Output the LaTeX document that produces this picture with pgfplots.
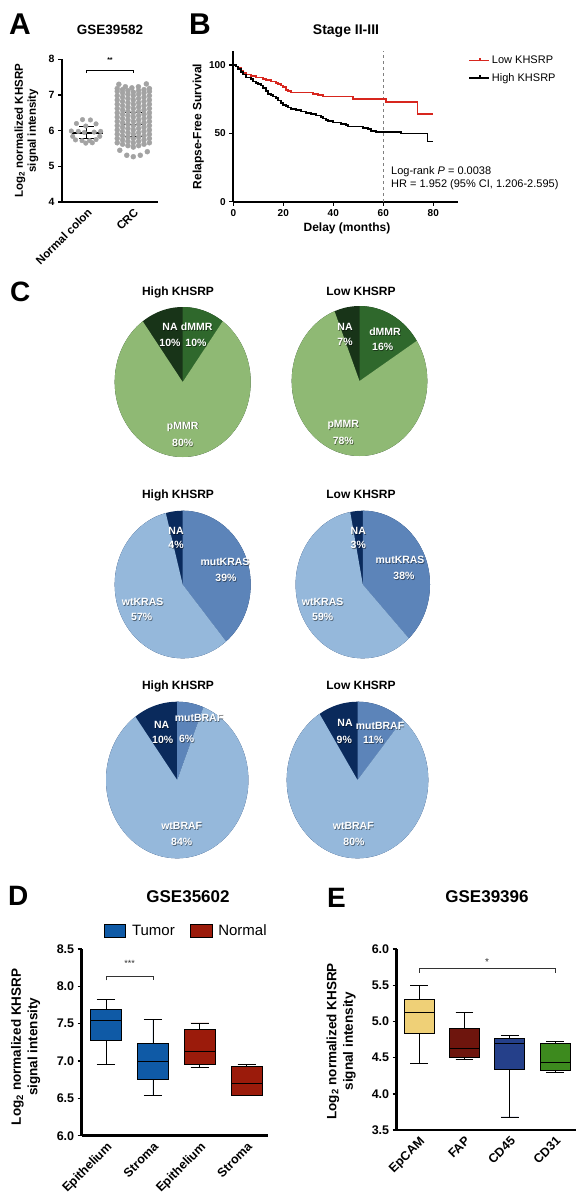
\documentclass[border=0pt]{standalone}
\usepackage{fontspec}
\setmainfont{Liberation Sans}
\usepackage{pgfplots}
\pgfplotsset{compat=1.18}
\usepgfplotslibrary{statistics}

\definecolor{dotgray}{HTML}{A3A3A3}
\definecolor{lowred}{HTML}{D7261E}
\definecolor{mmrNA}{HTML}{183418}
\definecolor{mmrD}{HTML}{2F682C}
\definecolor{mmrP}{HTML}{8FB974}
\definecolor{bNA}{HTML}{0A2A5C}
\definecolor{bMut}{HTML}{5C84B9}
\definecolor{bWt}{HTML}{95B8DB}
\definecolor{tumor}{HTML}{0F5AA6}
\definecolor{normal}{HTML}{9B1B0B}
\definecolor{epcam}{HTML}{EFD077}
\definecolor{fap}{HTML}{6E150D}
\definecolor{cdff}{HTML}{25408A}
\definecolor{cdto}{HTML}{3D8A1E}

\newcommand{\fs}[1]{\fontsize{#1}{#1}\selectfont}

\pgfplotsset{
  panel/.style={scale only axis, axis lines=left, axis line style={-, line width=2pt},
    tick style={black, line width=1.4pt}, tick align=outside, major tick length=4pt,
    /pgf/number format/assume math mode=true, clip=false,
    ticklabel style={font=\bfseries\fs{10}}},
  bx/.style={boxplot prepared={#1, draw direction=y, box extend=0.66, whisker extend=0.39},
    draw=black, line width=0.8pt, solid, forget plot},
}

% pie: cx cy rx ry p1 p2 colour1 colour2 colour3(rest)
\newcommand{\pie}[9]{%
  \pgfmathsetlengthmacro\pw{2*#3pt}\pgfmathsetlengthmacro\ph{2*#4pt}%
  \begin{axis}[at={(#1pt,-#2pt)}, anchor=center, scale only axis, width=\pw, height=\ph,
    hide axis, xmin=-1, xmax=1, ymin=-1, ymax=1, clip=false]
    \fill[#9] (axis cs:0,0) ellipse[x radius=#3pt, y radius=#4pt];
    \fill[#7] (axis cs:0,0) -- (axis cs:0,1) arc[start angle=90, end angle={90-3.6*#5}, x radius=#3pt, y radius=#4pt] -- cycle;
    \fill[#8] (axis cs:0,0) -- ++({90-3.6*#5}:#3pt and #4pt) arc[start angle={90-3.6*#5}, end angle={90-3.6*(#5+#6)}, x radius=#3pt, y radius=#4pt] -- cycle;
  \end{axis}}

\newcommand{\plab}[3]{%
  \node[font=\bfseries\fs{10.5}, text=black, opacity=0.45] at ({#1pt+0.7pt},{-#2pt-0.7pt}) {#3};
  \node[font=\bfseries\fs{10.5}, text=white] at (#1pt,-#2pt) {#3};}

\begin{document}
\begin{tikzpicture}
\useasboundingbox (0,0) rectangle (576pt,-1199pt);

% ---------- panel letters and titles
\node[anchor=base west, font=\bfseries\fs{30}, inner sep=0pt] at (9pt,-35pt) {A};
\node[anchor=base west, font=\bfseries\fs{30}, inner sep=0pt] at (189pt,-35pt) {B};
\node[anchor=base west, font=\bfseries\fs{28}, inner sep=0pt] at (10pt,-301pt) {C};
\node[anchor=base west, font=\bfseries\fs{28}, inner sep=0pt] at (8pt,-905pt) {D};
\node[anchor=base west, font=\bfseries\fs{28}, inner sep=0pt] at (327pt,-907pt) {E};

\node[anchor=base, font=\bfseries\fs{13.5}, inner sep=0pt] at (110pt,-35pt) {GSE39582};
\node[anchor=base, font=\bfseries\fs{14}, inner sep=0pt] at (346pt,-35pt) {Stage II-III};
\node[anchor=base, font=\bfseries\fs{17}, inner sep=0pt] at (188pt,-902.7pt) {GSE35602};
\node[anchor=base, font=\bfseries\fs{17}, inner sep=0pt] at (487pt,-902.7pt) {GSE39396};

\foreach \yy in {295,498.3,689.3}{
  \node[anchor=base, font=\bfseries\fs{12}, inner sep=0pt] at (178pt,-\yy pt) {High KHSRP};
  \node[anchor=base, font=\bfseries\fs{12}, inner sep=0pt] at (361pt,-\yy pt) {Low KHSRP};
}

% ---------- A
\begin{axis}[panel, at={(62pt,-202pt)}, anchor=south west, width=96pt, height=142.7pt,
  xmin=-0.53, xmax=1.53, ymin=4, ymax=8, ytick={4,5,6,7,8},
  xtick={0,1}, xticklabels={Normal colon, CRC}, x tick style={draw=none},
  xticklabel style={rotate=45, anchor=north east, font=\bfseries\fs{11.5}, inner sep=1pt},
  yticklabel style={font=\bfseries\fs{10.5}},
  ylabel={Log\textsubscript{2} normalized KHSRP\\signal intensity},
  ylabel style={at={(axis description cs:-0.37,0.5)}, anchor=center, align=center, font=\bfseries\fontsize{11.5}{13}\selectfont},
]
\addplot[black, line width=1.2pt] coordinates {(0.73,6.18)(1.27,6.18)};
\addplot[black, line width=1pt] coordinates {(0.82,6.50)(1.18,6.50)};
\addplot[black, line width=1pt] coordinates {(0.82,5.84)(1.18,5.84)};
\addplot[black, line width=1pt] coordinates {(1,5.84)(1,6.50)};
\addplot[only marks, mark=*, mark size=2.5pt, color=dotgray] coordinates {
(0.71,5.45)(0.86,5.31)(1.0,5.27)(1.15,5.31)(1.30,5.41)
(0.655,5.66)(0.77,5.62)(0.885,5.58)(1,5.54)(1.115,5.58)(1.23,5.62)(1.345,5.66)
(0.655,5.78)(0.77,5.74)(0.885,5.70)(1,5.66)(1.115,5.70)(1.23,5.74)(1.345,5.78)
(0.655,5.90)(0.77,5.86)(0.885,5.82)(1,5.78)(1.115,5.82)(1.23,5.86)(1.345,5.90)
(0.655,6.02)(0.77,5.98)(0.885,5.94)(1,5.90)(1.115,5.94)(1.23,5.98)(1.345,6.02)
(0.655,6.14)(0.77,6.10)(0.885,6.06)(1,6.02)(1.115,6.06)(1.23,6.10)(1.345,6.14)
(0.655,6.26)(0.77,6.22)(0.885,6.18)(1,6.14)(1.115,6.18)(1.23,6.22)(1.345,6.26)
(0.655,6.38)(0.77,6.34)(0.885,6.30)(1,6.26)(1.115,6.30)(1.23,6.34)(1.345,6.38)
(0.655,6.50)(0.77,6.46)(0.885,6.42)(1,6.38)(1.115,6.42)(1.23,6.46)(1.345,6.50)
(0.655,6.62)(0.77,6.58)(0.885,6.54)(1,6.50)(1.115,6.54)(1.23,6.58)(1.345,6.62)
(0.655,6.74)(0.77,6.70)(0.885,6.66)(1,6.62)(1.115,6.66)(1.23,6.70)(1.345,6.74)
(0.655,6.86)(0.77,6.82)(0.885,6.78)(1,6.74)(1.115,6.78)(1.23,6.82)(1.345,6.86)
(0.655,6.98)(0.77,6.94)(0.885,6.90)(1,6.86)(1.115,6.90)(1.23,6.94)(1.345,6.98)
(0.655,7.10)(0.77,7.06)(0.885,7.02)(1,6.98)(1.115,7.02)(1.23,7.06)(1.345,7.10)
(0.655,7.18)(0.77,7.15)(0.885,7.12)(1,7.08)(1.115,7.12)(1.23,7.15)(1.345,7.18)
(0.69,7.30)(0.83,7.23)(0.97,7.20)(1.11,7.23)(1.28,7.31)
};
\addplot[only marks, mark=*, mark size=2.3pt, color=dotgray] coordinates {
(-0.09,6.31)(0.08,6.30)(-0.22,6.20)(0.20,6.19)(-0.02,6.13)(-0.33,5.99)(-0.18,5.98)
(0.16,5.96)(0.30,5.98)(-0.05,5.95)(-0.30,5.84)(0.28,5.84)(-0.24,5.74)(-0.10,5.72)
(0.06,5.72)(0.20,5.75)(-0.02,5.65)(0.12,5.66)
};
\addplot[black, line width=2pt] coordinates {(-0.32,5.93)(0.34,5.93)};
\addplot[black, line width=1pt] coordinates {(-0.16,6.13)(0.16,6.13)};
\addplot[black, line width=1pt] coordinates {(-0.16,5.77)(0.16,5.77)};
\addplot[black, line width=1pt] coordinates {(0,5.77)(0,6.13)};
\addplot[black, line width=0.6pt] coordinates {(0,7.61)(0,7.70)(1,7.70)(1,7.61)};
\node[font=\bfseries\fs{7}] at (axis cs:0.5,7.98) {**};
\end{axis}

% ---------- B
\begin{axis}[panel, at={(233.3pt,-201.7pt)}, anchor=south west, width=225pt, height=150.3pt,
  xmin=0, xmax=90, ymin=0, ymax=110, xtick={0,20,40,60,80}, ytick={0,50,100},
  xlabel={Delay (months)}, ylabel={Relapse-Free Survival},
  xlabel style={at={(axis description cs:0.505,-0.18)}, anchor=center, font=\bfseries\fs{12}},
  ylabel style={at={(axis description cs:-0.156,0.5)}, anchor=center, font=\bfseries\fs{12}},
  legend style={at={(axis description cs:1.043,0.985)}, anchor=north west, draw=none, fill=none,
    font=\fs{11}, row sep=4pt, inner sep=0pt, cells={anchor=west}},
  legend image code/.code={\draw[#1, line width=1.8pt] (0pt,0pt) -- (20pt,0pt);
    \draw[#1, line width=1.3pt] (11pt,0pt) -- (11pt,2.8pt);},
]
\addplot[gray, dashed, line width=0.5pt, forget plot] coordinates {(60,0)(60,110)};
\addplot[const plot, lowred, line width=1.7pt] coordinates {
(0,100)(1,99)(2,98)(3,96)(4,94)(5,93)(7,92)(9,91)(12,90)(13,89)(15,88)(17,87)(18,86)
(19,85)(20,84)(21,82)(22,81)(23,80)(31,80)(32,79)(34,78)(36,77)(47,77)(48,75)(60,75)
(61,73)(73.7,73)(73.7,64)(80,64)};
\addlegendentry{Low KHSRP}
\addplot[const plot, black, line width=1.7pt] coordinates {
(0,100)(1,99)(2,97)(3,95)(4,93)(5,91)(7,90)(8,88)(9,87)(10,86)(11,85)(12,83)(13,81)
(14,79)(15,78)(16,77)(17,76)(18,74)(19,72)(20,71)(21,70)(22,69)(23,68)(25,67)(27,66)
(29,65)(31,64)(33,63)(35,62)(36,61)(37,60)(38,59)(40,58)(43,57)(45,56)(46,55)(50,55)
(52,54)(54,53)(55,52)(57,51)(66,51)(67,50)(77.7,50)(77.7,44)(80,44)};
\addlegendentry{High KHSRP}
\end{axis}
\node[anchor=base west, font=\fs{11}, inner sep=0pt] at (391pt,-174pt) {Log-rank \textit{P} = 0.0038};
\node[anchor=base west, font=\fs{11}, inner sep=0pt] at (391pt,-187pt) {HR = 1.952 (95\% CI, 1.206-2.595)};

% ---------- C
\pie{182.7}{382}{68}{75}{10}{80}{mmrD}{mmrP}{mmrNA}
\pie{359.5}{381}{67.8}{75}{16}{78}{mmrD}{mmrP}{mmrNA}
\pie{182.7}{584.5}{68}{73.8}{39}{57}{bMut}{bWt}{bNA}
\pie{362.8}{584.5}{67.2}{73.8}{38}{59}{bMut}{bWt}{bNA}
\pie{177.2}{780}{71.2}{78.3}{6}{84}{bMut}{bWt}{bNA}
\pie{357.5}{780}{70.8}{78.3}{11}{80}{bMut}{bWt}{bNA}

\plab{170}{326.7}{NA}\plab{170}{343}{10\%}
\plab{196.7}{326.7}{dMMR}\plab{196}{343}{10\%}
\plab{182.7}{426.7}{pMMR}\plab{182.7}{442.7}{80\%}
\plab{345}{326.7}{NA}\plab{345}{341.7}{7\%}
\plab{385}{331.7}{dMMR}\plab{382.7}{347.3}{16\%}
\plab{343.3}{425}{pMMR}\plab{343.3}{441}{78\%}

\plab{176}{530.7}{NA}\plab{176}{545}{4\%}
\plab{225}{561.7}{mutKRAS}\plab{226}{578.3}{39\%}
\plab{142.7}{601.7}{wtKRAS}\plab{141.7}{617.3}{57\%}
\plab{358.3}{530.7}{NA}\plab{358.3}{545}{3\%}
\plab{400}{560}{mutKRAS}\plab{404}{576}{38\%}
\plab{322.7}{601.7}{wtKRAS}\plab{322.7}{616.7}{59\%}

\plab{161.7}{725}{NA}\plab{162.7}{740}{10\%}
\plab{199}{718.3}{mutBRAF}\plab{186.7}{739.3}{6\%}
\plab{181.7}{826}{wtBRAF}\plab{181.7}{841.7}{84\%}
\plab{345}{723.3}{NA}\plab{344.3}{740}{9\%}
\plab{380}{726}{mutBRAF}\plab{373.3}{740}{11\%}
\plab{353.3}{826}{wtBRAF}\plab{354}{841.7}{80\%}

% ---------- D
\begin{axis}[panel, at={(81.7pt,-1135.7pt)}, anchor=south west, width=186.6pt, height=186.7pt,
  axis line style={-, line width=2.7pt},
  xmin=0.48, xmax=4.46, ymin=6, ymax=8.5, ytick={6,6.5,7,7.5,8,8.5},
  yticklabel style={font=\bfseries\fs{12.5}, /pgf/number format/.cd, fixed, fixed zerofill, precision=1},
  xtick={1,2,3,4}, xticklabels={Epithelium, Stroma, Epithelium, Stroma}, x tick style={draw=none},
  xticklabel style={rotate=45, anchor=north east, font=\bfseries\fs{12.5}, inner sep=1pt},
  ylabel={Log\textsubscript{2} normalized KHSRP\\signal intensity},
  ylabel style={at={(axis description cs:-0.30,0.476)}, anchor=center, align=center, font=\bfseries\fontsize{13.5}{16.5}\selectfont},
  legend style={at={(axis description cs:0.116,1.098)}, anchor=west, draw=none, fill=none,
    font=\fs{15}, legend columns=2, inner sep=0pt,
    /tikz/every odd column/.append style={column sep=4pt},
    /tikz/every even column/.append style={column sep=13pt}},
  legend image code/.code={\draw[#1] (0pt,-6.5pt) rectangle (21.7pt,6.5pt);},
]
\addplot[bx={draw position=1, lower whisker=6.96, lower quartile=7.27, median=7.54, upper quartile=7.69, upper whisker=7.82}, fill=tumor] coordinates {};
\addplot[bx={draw position=2, lower whisker=6.54, lower quartile=6.75, median=6.99, upper quartile=7.23, upper whisker=7.56}, fill=tumor] coordinates {};
\addplot[bx={draw position=3, lower whisker=6.91, lower quartile=6.95, median=7.13, upper quartile=7.43, upper whisker=7.51}, fill=normal] coordinates {};
\addplot[bx={draw position=4, lower whisker=6.54, lower quartile=6.54, median=6.70, upper quartile=6.93, upper whisker=6.96}, fill=normal] coordinates {};
\addplot[black!80, line width=0.7pt, forget plot] coordinates {(1,8.08)(1,8.13)(2,8.13)(2,8.08)};
\node[font=\fs{9}, text=black!80] at (axis cs:1.5,8.31) {***};
\addlegendimage{fill=tumor, draw=black, line width=0.8pt}
\addlegendentry{Tumor}
\addlegendimage{fill=normal, draw=black, line width=0.8pt}
\addlegendentry{Normal}
\end{axis}

% ---------- E
\begin{axis}[panel, at={(396.7pt,-1130pt)}, anchor=south west, width=179.3pt, height=181pt,
  axis line style={-, line width=2.7pt},
  xmin=0.508, xmax=4.46, ymin=3.5, ymax=6, ytick={3.5,4,4.5,5,5.5,6},
  yticklabel style={font=\bfseries\fs{12.5}, /pgf/number format/.cd, fixed, fixed zerofill, precision=1},
  xtick={1,2,3,4}, xticklabels={EpCAM, FAP, CD45, CD31}, x tick style={draw=none},
  xticklabel style={rotate=45, anchor=north east, font=\bfseries\fs{12.5}, inner sep=1pt},
  ylabel={Log\textsubscript{2} normalized KHSRP\\signal intensity},
  ylabel style={at={(axis description cs:-0.31,0.49)}, anchor=center, align=center, font=\bfseries\fontsize{13.5}{16.5}\selectfont},
]
\addplot[bx={draw position=1, lower whisker=4.42, lower quartile=4.84, median=5.12, upper quartile=5.31, upper whisker=5.50}, fill=epcam] coordinates {};
\addplot[bx={draw position=2, lower whisker=4.47, lower quartile=4.50, median=4.63, upper quartile=4.91, upper whisker=5.12}, fill=fap] coordinates {};
\addplot[bx={draw position=3, lower whisker=3.68, lower quartile=4.34, median=4.69, upper quartile=4.77, upper whisker=4.81}, fill=cdff] coordinates {};
\addplot[bx={draw position=4, lower whisker=4.29, lower quartile=4.32, median=4.43, upper quartile=4.69, upper whisker=4.72}, fill=cdto] coordinates {};
\addplot[black!80, line width=0.7pt, forget plot] coordinates {(1,5.67)(1,5.73)(4,5.73)(4,5.67)};
\node[font=\fs{10}, text=black!80] at (axis cs:2.5,5.82) {*};
\end{axis}
\end{tikzpicture}
\end{document}
